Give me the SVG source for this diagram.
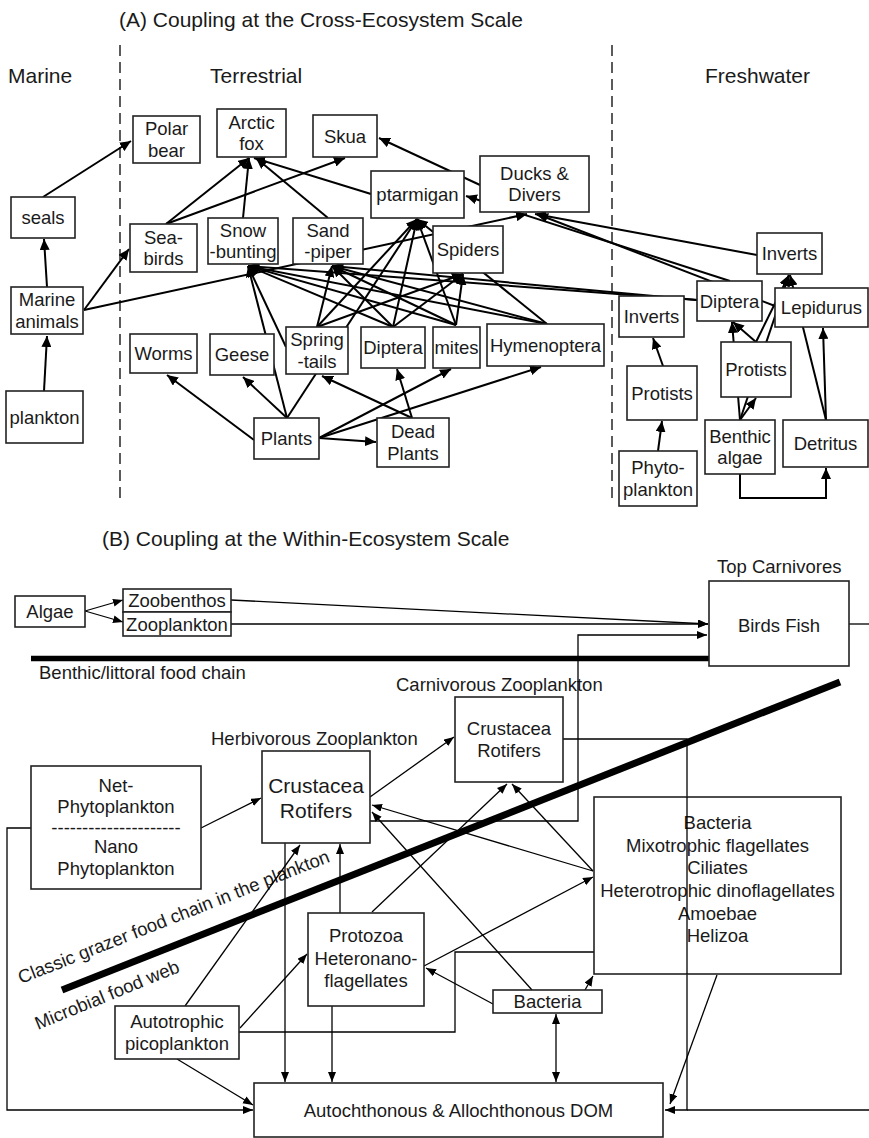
<svg xmlns="http://www.w3.org/2000/svg" width="869" height="1138" viewBox="0 0 869 1138">
  <defs>
    <style>
      .bg { fill: #fff; }
      .box { fill: #fff; stroke: #222; stroke-width: 1.6; }
      .t { font-family: "Liberation Sans", Arial, sans-serif; font-size: 18.5px; fill: #1a1a1a; text-anchor: middle; }
      .ts { font-family: "Liberation Sans", Arial, sans-serif; font-size: 18.5px; fill: #1a1a1a; }
      .hd { font-family: "Liberation Sans", Arial, sans-serif; font-size: 21px; fill: #1a1a1a; }
      .big { font-family: "Liberation Sans", Arial, sans-serif; font-size: 21px; fill: #1a1a1a; text-anchor: middle; }
      .ea { stroke: #000; stroke-width: 2; fill: none; marker-end: url(#ha); }
      .eb { stroke: #000; stroke-width: 1.3; fill: none; marker-end: url(#hb); }
      .eb2 { stroke: #000; stroke-width: 1.3; fill: none; marker-start: url(#hb); marker-end: url(#hb); }
      .pl { stroke: #000; stroke-width: 1.3; fill: none; }
      .dash { stroke: #333; stroke-width: 1.6; stroke-dasharray: 11 6; fill: none; }
      .thick { stroke: #000; fill: none; }
    </style>
    <marker id="ha" markerUnits="userSpaceOnUse" markerWidth="12" markerHeight="10" refX="11" refY="5" orient="auto">
      <path d="M0,0 L11,5 L0,10 z" fill="#000"/>
    </marker>
    <marker id="hb" markerUnits="userSpaceOnUse" markerWidth="11" markerHeight="9" refX="10" refY="4" orient="auto-start-reverse">
      <path d="M0,0 L10,4 L0,8 z" fill="#000"/>
    </marker>
  </defs>

  <rect class="bg" x="0" y="0" width="869" height="1138"/>

  <!-- ===== Panel A: cross-ecosystem coupling ===== -->
  <text class="hd" x="119" y="27">(A) Coupling at the Cross-Ecosystem Scale</text>
  <text class="hd" x="8" y="83">Marine</text>
  <text class="hd" x="210" y="83">Terrestrial</text>
  <text class="hd" x="705" y="83">Freshwater</text>
  <path class="dash" d="M120,45 V500"/>
  <path class="dash" d="M612,45 V500"/>

  <g id="connectors-a">
    <path class="ea" d="M43,197 L131,141"/>
    <path class="ea" d="M47,287 L44,239"/>
    <path class="ea" d="M44,391 L47,336"/>
    <path class="ea" d="M84,310 L129,249"/>
    <path class="ea" d="M84,310 L527,214"/>
    <path class="ea" d="M166,224 L249,158"/>
    <path class="ea" d="M166,224 L345,158"/>
    <path class="ea" d="M243,218 L249,158"/>
    <path class="ea" d="M328,218 L256,158"/>
    <path class="ea" d="M371,194 L254,158"/>
    <path class="ea" d="M480,185 L379,138"/>
    <path class="ea" d="M730,281 L466,196"/>
    <path class="ea" d="M775,306 L537,214"/>
    <path class="ea" d="M757,255 L535,214"/>
    <!-- prey of snow-bunting -->
    <path class="ea" d="M287,418 L248,266"/>
    <path class="ea" d="M286,347 L248,266"/>
    <path class="ea" d="M393,327 L248,266"/>
    <path class="ea" d="M456,325 L248,266"/>
    <path class="ea" d="M547,324 L248,266"/>
    <path class="ea" d="M697,300 L248,266"/>
    <!-- prey of sand-piper -->
    <path class="ea" d="M317,327 L332,266"/>
    <path class="ea" d="M393,327 L332,266"/>
    <path class="ea" d="M456,325 L332,266"/>
    <path class="ea" d="M547,324 L332,266"/>
    <path class="ea" d="M697,300 L332,266"/>
    <!-- prey of ptarmigan -->
    <path class="ea" d="M317,327 L417,219"/>
    <path class="ea" d="M287,418 L417,219"/>
    <path class="ea" d="M393,327 L417,219"/>
    <path class="ea" d="M456,325 L417,219"/>
    <path class="ea" d="M547,324 L417,219"/>
    <!-- prey of spiders -->
    <path class="ea" d="M317,327 L463,274"/>
    <path class="ea" d="M393,327 L463,274"/>
    <path class="ea" d="M456,325 L463,274"/>
    <!-- plants and dead plants -->
    <path class="ea" d="M254,440 L167,375"/>
    <path class="ea" d="M287,418 L243,377"/>
    <path class="ea" d="M319,438 L376,442"/>
    <path class="ea" d="M319,438 L451,369"/>
    <path class="ea" d="M319,438 L541,367"/>
    <path class="ea" d="M412,418 L397,369"/>
    <path class="ea" d="M412,418 L322,376"/>
    <!-- freshwater -->
    <path class="ea" d="M658,451 L662,421"/>
    <path class="ea" d="M663,366 L653,338"/>
    <path class="ea" d="M740,420 L756,398"/>
    <path class="ea" d="M740,420 L732,322"/>
    <path class="ea" d="M740,420 L789,275"/>
    <path class="ea" d="M756,342 L733,322"/>
    <path class="ea" d="M756,342 L789,275"/>
    <path class="ea" d="M826,420 L790,275"/>
    <path class="ea" d="M826,420 L823,328"/>
    <path class="ea" d="M740,474 V498 H826 V468"/>
  </g>

  <g id="polar-bear"><rect class="box" x="133" y="116" width="67" height="47"/><text class="t" x="166.5" y="135.3">Polar</text><text class="t" x="166.5" y="156.8">bear</text></g>
  <g id="arctic-fox"><rect class="box" x="217" y="109" width="69" height="48"/><text class="t" x="251.5" y="128.8">Arctic</text><text class="t" x="251.5" y="150.3">fox</text></g>
  <g id="skua"><rect class="box" x="313" y="115" width="64" height="42"/><text class="t" x="345" y="142.6">Skua</text></g>
  <g id="ptarmigan"><rect class="box" x="371" y="171" width="93" height="47"/><text class="t" x="417.5" y="201.1">ptarmigan</text></g>
  <g id="ducks-divers"><rect class="box" x="480" y="156" width="109" height="56"/><text class="t" x="534.5" y="179.8">Ducks &amp;</text><text class="t" x="534.5" y="201.3">Divers</text></g>
  <g id="seals"><rect class="box" x="11" y="197" width="64" height="41"/><text class="t" x="43" y="224.1">seals</text></g>
  <g id="sea-birds"><rect class="box" x="130" y="224" width="67" height="48"/><text class="t" x="163.5" y="243.8">Sea-</text><text class="t" x="163.5" y="265.3">birds</text></g>
  <g id="snow-bunting"><rect class="box" x="208" y="218" width="70" height="46"/><text class="t" x="243" y="236.8">Snow</text><text class="t" x="243" y="258.3">-bunting</text></g>
  <g id="sand-piper"><rect class="box" x="293" y="218" width="70" height="46"/><text class="t" x="328" y="236.8">Sand</text><text class="t" x="328" y="258.3">-piper</text></g>
  <g id="spiders"><rect class="box" x="433" y="226" width="70" height="47"/><text class="t" x="468" y="256.1">Spiders</text></g>
  <g id="marine-animals"><rect class="box" x="11" y="287" width="72" height="47"/><text class="t" x="47" y="306.3">Marine</text><text class="t" x="47" y="327.8">animals</text></g>
  <g id="worms"><rect class="box" x="130" y="334" width="67" height="39"/><text class="t" x="163.5" y="360.1">Worms</text></g>
  <g id="geese"><rect class="box" x="210" y="334" width="64" height="41"/><text class="t" x="242" y="361.1">Geese</text></g>
  <g id="spring-tails"><rect class="box" x="286" y="327" width="62" height="47"/><text class="t" x="317" y="346.3">Spring</text><text class="t" x="317" y="367.8">-tails</text></g>
  <g id="diptera-terr"><rect class="box" x="361" y="327" width="64" height="41"/><text class="t" x="393" y="354.1">Diptera</text></g>
  <g id="mites"><rect class="box" x="433" y="327" width="47" height="41"/><text class="t" x="456.5" y="354.1">mites</text></g>
  <g id="hymenoptera"><rect class="box" x="487" y="324" width="117" height="42"/><text class="t" x="545.5" y="351.6">Hymenoptera</text></g>
  <g id="plankton"><rect class="box" x="6" y="391" width="77" height="52"/><text class="t" x="44.5" y="423.6">plankton</text></g>
  <g id="plants"><rect class="box" x="254" y="418" width="65" height="41"/><text class="t" x="286.5" y="445.1">Plants</text></g>
  <g id="dead-plants"><rect class="box" x="377" y="418" width="72" height="49"/><text class="t" x="413" y="438.3">Dead</text><text class="t" x="413" y="459.8">Plants</text></g>
  <g id="inverts-pelagic"><rect class="box" x="619" y="296" width="65" height="41"/><text class="t" x="651.5" y="323.1">Inverts</text></g>
  <g id="protists-pelagic"><rect class="box" x="627" y="366" width="70" height="54"/><text class="t" x="662" y="399.6">Protists</text></g>
  <g id="phytoplankton"><rect class="box" x="619" y="451" width="78" height="55"/><text class="t" x="658" y="474.3">Phyto-</text><text class="t" x="658" y="495.8">plankton</text></g>
  <g id="inverts-benthic"><rect class="box" x="757" y="233" width="65" height="41"/><text class="t" x="789.5" y="260.1">Inverts</text></g>
  <g id="diptera-fresh"><rect class="box" x="697" y="281" width="65" height="40"/><text class="t" x="729.5" y="307.6">Diptera</text></g>
  <g id="lepidurus"><rect class="box" x="775" y="288" width="93" height="39"/><text class="t" x="821.5" y="314.1">Lepidurus</text></g>
  <g id="protists-benthic"><rect class="box" x="721" y="342" width="70" height="55"/><text class="t" x="756" y="376.1">Protists</text></g>
  <g id="benthic-algae"><rect class="box" x="705" y="420" width="70" height="54"/><text class="t" x="740" y="442.8">Benthic</text><text class="t" x="740" y="464.3">algae</text></g>
  <g id="detritus"><rect class="box" x="783" y="420" width="85" height="47"/><text class="t" x="825.5" y="450.1">Detritus</text></g>

  <!-- ===== Panel B: within-ecosystem coupling ===== -->
  <text class="hd" x="102" y="546">(B) Coupling at the Within-Ecosystem Scale</text>
  <text class="ts" x="39" y="679">Benthic/littoral food chain</text>
  <text class="ts" x="717" y="573">Top Carnivores</text>
  <text class="ts" x="396" y="691">Carnivorous Zooplankton</text>
  <text class="ts" x="211" y="745">Herbivorous Zooplankton</text>
  <text class="ts" transform="translate(21,984) rotate(-21.6)">Classic grazer food chain in the plankton</text>
  <text class="ts" transform="translate(38,1030) rotate(-22.3)">Microbial food web</text>

  <path class="thick" stroke-width="5.5" d="M31,658.5 H709"/>
  <path class="thick" stroke-width="7" d="M62,990 L840,682"/>

  <g id="connectors-b">
    <path class="eb" d="M85,611 L123,600"/>
    <path class="eb" d="M85,611 L123,622"/>
    <path class="eb" d="M231,600 L708,624"/>
    <path class="eb" d="M231,624 L708,624"/>
    <path class="eb" d="M370,821 H578 V635 H707"/>
    <path class="eb" d="M370,797 L454,737"/>
    <path class="eb" d="M201,828 L261,798"/>
    <path class="eb" d="M31,828 H7 V1110 H253"/>
    <path class="eb" d="M285,843 V1082"/>
    <path class="eb" d="M340,913 V844"/>
    <path class="eb" d="M332,1006 V1082"/>
    <path class="eb" d="M185,1006 L300,845"/>
    <path class="eb" d="M240,1028 L307,954"/>
    <path class="eb" d="M177,1059 L253,1105"/>
    <path class="eb" d="M239,1032 H455 V952 H717 V973"/>
    <path class="eb" d="M372,912 L507,784"/>
    <path class="eb" d="M424,966 L593,877"/>
    <path class="eb" d="M493,1004 L426,968"/>
    <path class="eb" d="M585,990 L593,976"/>
    <path class="eb" d="M532,990 L372,812"/>
    <path class="eb" d="M593,871 L372,805"/>
    <path class="eb" d="M593,871 L512,784"/>
    <path class="eb2" d="M556,1014 V1082"/>
    <path class="eb" d="M717,975 L670,1104"/>
    <path class="eb" d="M563,739 H687 V1110 H665"/>
    <path class="pl" d="M849,624 H869"/>
    <path class="pl" d="M869,1110 H687"/>
  </g>

  <g id="algae"><rect class="box" x="15" y="596" width="70" height="31"/><text class="t" x="50" y="618.1">Algae</text></g>
  <g id="zoobenthos"><rect class="box" x="123" y="589" width="108" height="23"/><text class="t" x="177" y="607.1">Zoobenthos</text></g>
  <g id="zooplankton"><rect class="box" x="123" y="612" width="108" height="24"/><text class="t" x="177" y="630.6">Zooplankton</text></g>
  <g id="top-carnivores"><rect class="box" x="709" y="581" width="140" height="85"/><text class="t" x="779" y="631.6">Birds Fish</text></g>
  <g id="carnivorous-zooplankton"><rect class="box" x="455" y="697" width="108" height="85"/><text class="t" x="509" y="735.3">Crustacea</text><text class="t" x="509" y="756.8">Rotifers</text></g>
  <g id="herbivorous-zooplankton"><rect class="box" x="262" y="751" width="108" height="92"/><text class="big" x="316" y="792.7">Crustacea</text><text class="big" x="316" y="817.7">Rotifers</text></g>
  <g id="phytoplankton-b"><rect class="box" x="31" y="766" width="170" height="123"/>
    <text class="t" x="116" y="791.5">Net-</text>
    <text class="t" x="116" y="813">Phytoplankton</text>
    <text class="t" x="116" y="834">---------------------</text>
    <text class="t" x="116" y="853">Nano</text>
    <text class="t" x="116" y="875">Phytoplankton</text>
  </g>
  <g id="microbial-consumers"><rect class="box" x="594" y="797" width="247" height="177"/>
    <text class="t" x="717.5" y="829.3">Bacteria</text>
    <text class="t" x="717.5" y="851.7">Mixotrophic flagellates</text>
    <text class="t" x="717.5" y="874">Ciliates</text>
    <text class="t" x="717.5" y="896.7">Heterotrophic dinoflagellates</text>
    <text class="t" x="717.5" y="920">Amoebae</text>
    <text class="t" x="717.5" y="942.3">Helizoa</text>
  </g>
  <g id="protozoa"><rect class="box" x="308" y="913" width="116" height="93"/>
    <text class="t" x="366" y="941.7">Protozoa</text>
    <text class="t" x="366" y="965">Heteronano-</text>
    <text class="t" x="366" y="987.3">flagellates</text>
  </g>
  <g id="bacteria"><rect class="box" x="493" y="990" width="109" height="23"/><text class="t" x="547.5" y="1007.7">Bacteria</text></g>
  <g id="autotrophic-picoplankton"><rect class="box" x="115" y="1006" width="124" height="53"/><text class="t" x="177" y="1028.3">Autotrophic</text><text class="t" x="177" y="1050">picoplankton</text></g>
  <g id="dom"><rect class="box" x="254" y="1083" width="409" height="54"/><text class="t" x="458.5" y="1116.7">Autochthonous &amp; Allochthonous DOM</text></g>

  <!-- the vertical lines into Top Carnivores and DOM run over the consumer box text -->
  <path class="pl" d="M687,797 V974"/>
</svg>
